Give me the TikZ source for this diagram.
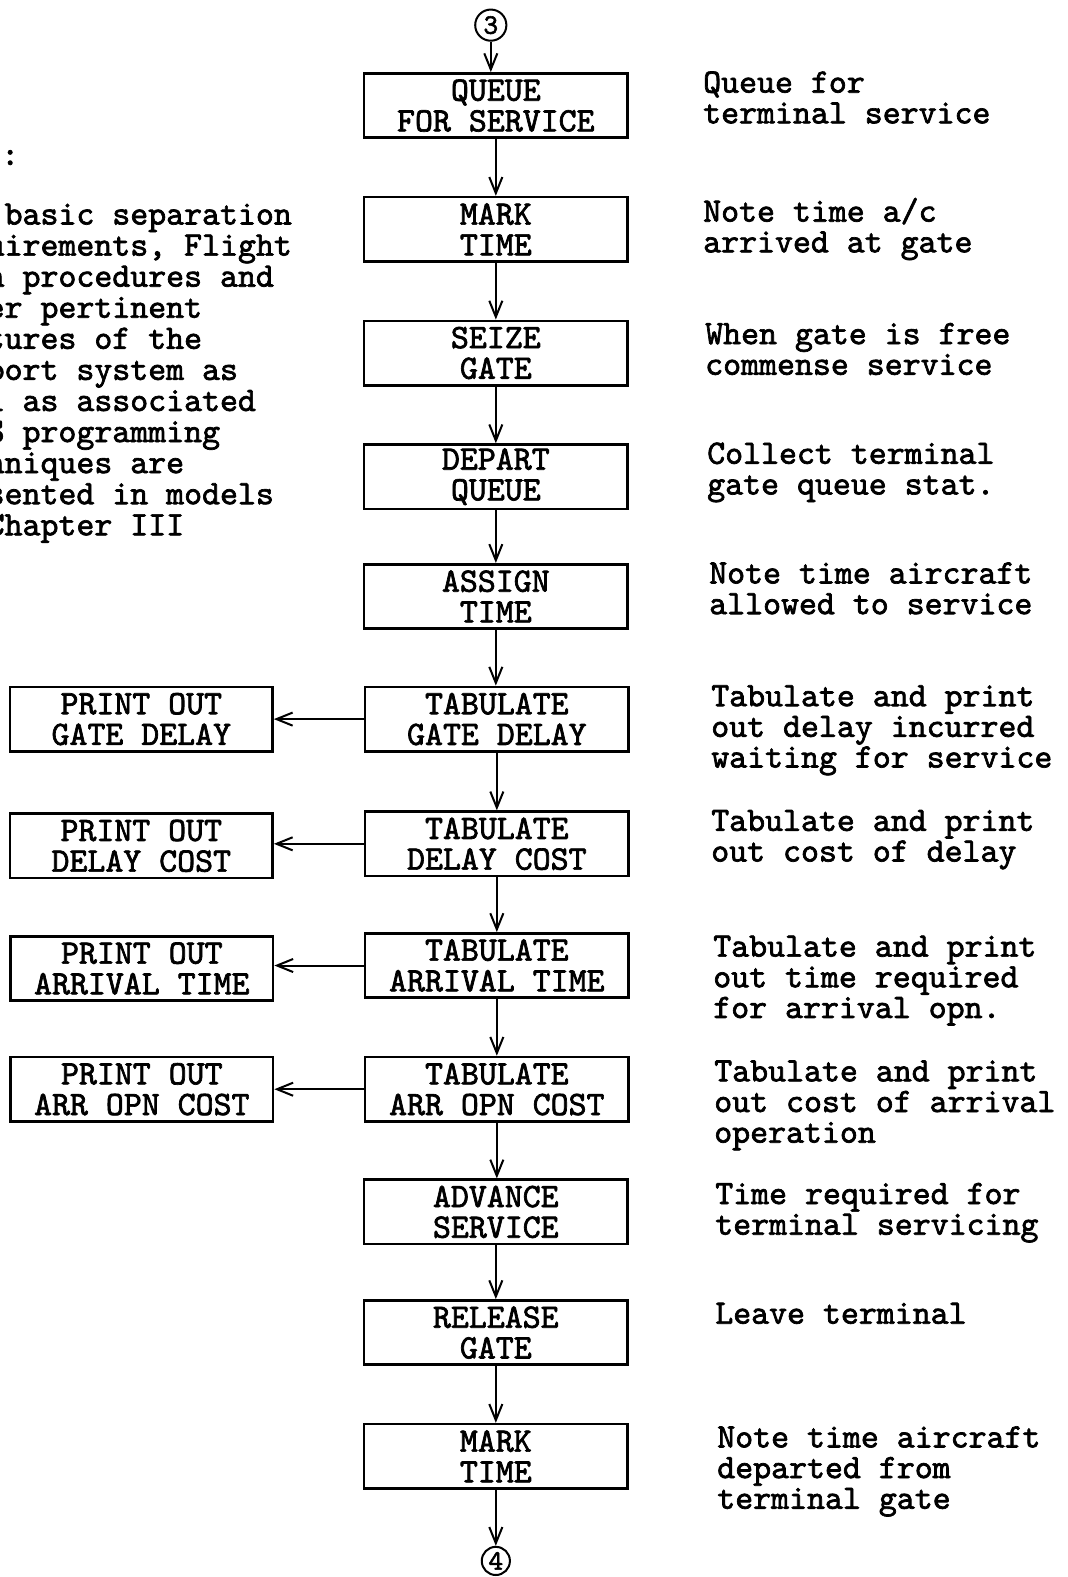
\documentclass[tikz,border=0pt]{standalone}
\usepackage{fontspec}
\newfontfamily\tw{lmmono10-regular.otf}[FakeBold=2]
\usetikzlibrary{arrows.meta}
\begin{document}
\begin{tikzpicture}[x=1pt,y=-1pt,
  box/.style={draw, line width=2.6pt, minimum width=262pt, minimum height=64pt, inner sep=0pt,
    align=center, font=\tw\fontsize{34}{30.5}\selectfont},
  lbox/.style={box, minimum width=261pt},
  conn/.style={line width=2pt, -{Straight Barb[length=16pt,width=13pt,line width=2pt]}},
  circ/.style={draw, circle, line width=2pt, minimum size=31pt, inner sep=0pt,
    font=\tw\fontsize{28}{28}\selectfont},
  note/.style={anchor=north west, inner sep=0pt, align=left,
    font=\tw\fontsize{34}{30.5}\selectfont},
]
\useasboundingbox (0,0) rectangle (1061,1568);

% main column
\node[circ] (c3) at (488,25) {3};
\node[box] (b1) at (493,105) {QUEUE\\FOR SERVICE};
\node[box] (b2) at (493,228) {MARK\\TIME};
\node[box] (b3) at (493,351) {SEIZE\\GATE};
\node[box] (b4) at (493,474) {DEPART\\QUEUE};
\node[box] (b5) at (493,593) {ASSIGN\\TIME};
\node[box] (b6) at (494,715) {TABULATE\\GATE DELAY};
\node[box] (b7) at (494,839) {TABULATE\\DELAY COST};
\node[box] (b8) at (494,960) {TABULATE\\ARRIVAL TIME};
\node[box] (b9) at (494,1083) {TABULATE\\ARR OPN COST};
\node[box] (b10) at (493,1205) {ADVANCE\\SERVICE};
\node[box] (b11) at (493,1325) {RELEASE\\GATE};
\node[box] (b12) at (493,1448) {MARK\\TIME};
\node[circ, minimum size=28pt] (c4) at (493,1552) {4};

% left column
\node[lbox] (p1) at (140.5,715) {PRINT OUT\\GATE DELAY};
\node[lbox] (p2) at (140.5,841) {PRINT OUT\\DELAY COST};
\node[lbox] (p3) at (141,963) {PRINT OUT\\ARRIVAL TIME};
\node[lbox] (p4) at (141,1083) {PRINT OUT\\ARR OPN COST};

% connectors
\draw[conn] (c3.south) -- (c3.south |- b1.north);
\foreach \a/\b in {b1/b2,b2/b3,b3/b4,b4/b5,b5/b6,b6/b7,b7/b8,b8/b9,b9/b10,b10/b11,b11/b12}
  \draw[conn] (\a.south) -- (\a.south |- \b.north);
\draw[conn] (b12.south) -- (b12.south |- c4.north);
\draw[conn] (b6.west) -- (b6.west -| p1.east);
\draw[conn] (b7.west) -- (b7.west -| p2.east);
\draw[conn] (b8.west) -- (b8.west -| p3.east);
\draw[conn] (b9.west) -- (b9.west -| p4.east);

% right notes
\node[note] (n1) at (699,70.6) {\strut Queue for\\terminal service};
\node[note] (n2) at (699,196.6) {\strut Note time a/c\\arrived at gate};
\node[note] (n3) at (701,320.6) {\strut When gate is free\\commense service};
\node[note] (n4) at (703,439.6) {\strut Collect terminal\\gate queue stat.};
\node[note] (n5) at (705,558.6) {\strut Note time aircraft\\allowed to service};
\node[note] (n6) at (707,680.6) {\strut Tabulate and print\\out delay incurred\\waiting for service};
\node[note] (n7) at (707,804.6) {\strut Tabulate and print\\out cost of delay};
\node[note] (n8) at (709,929.6) {\strut Tabulate and print\\out time required\\for arrival opn.};
\node[note] (n9) at (710,1053.6) {\strut Tabulate and print\\out cost of arrival\\operation};
\node[note] (n10) at (711,1175.6) {\strut Time required for\\terminal servicing};
\node[note] (n11) at (711,1294.6) {\strut Leave terminal};
\node[note] (n12) at (713,1417.6) {\strut Note time aircraft\\departed from\\terminal gate};

% left paragraph, cut by the page edge
\begin{scope}
\clip (0,0) rectangle (1061,1568);
\node[note, anchor=base west] (mark) at (1,164) {:};
\node[note, font=\tw\fontsize{34}{30.9}\selectfont] (para) at (-67,201.4)
  {\strut The basic separation\\requirements, Flight\\Plan procedures and\\other pertinent\\features of the\\airport system as\\well as associated\\GPSS programming\\techniques are\\presented in models\\in Chapter III};
\end{scope}
\end{tikzpicture}
\end{document}
